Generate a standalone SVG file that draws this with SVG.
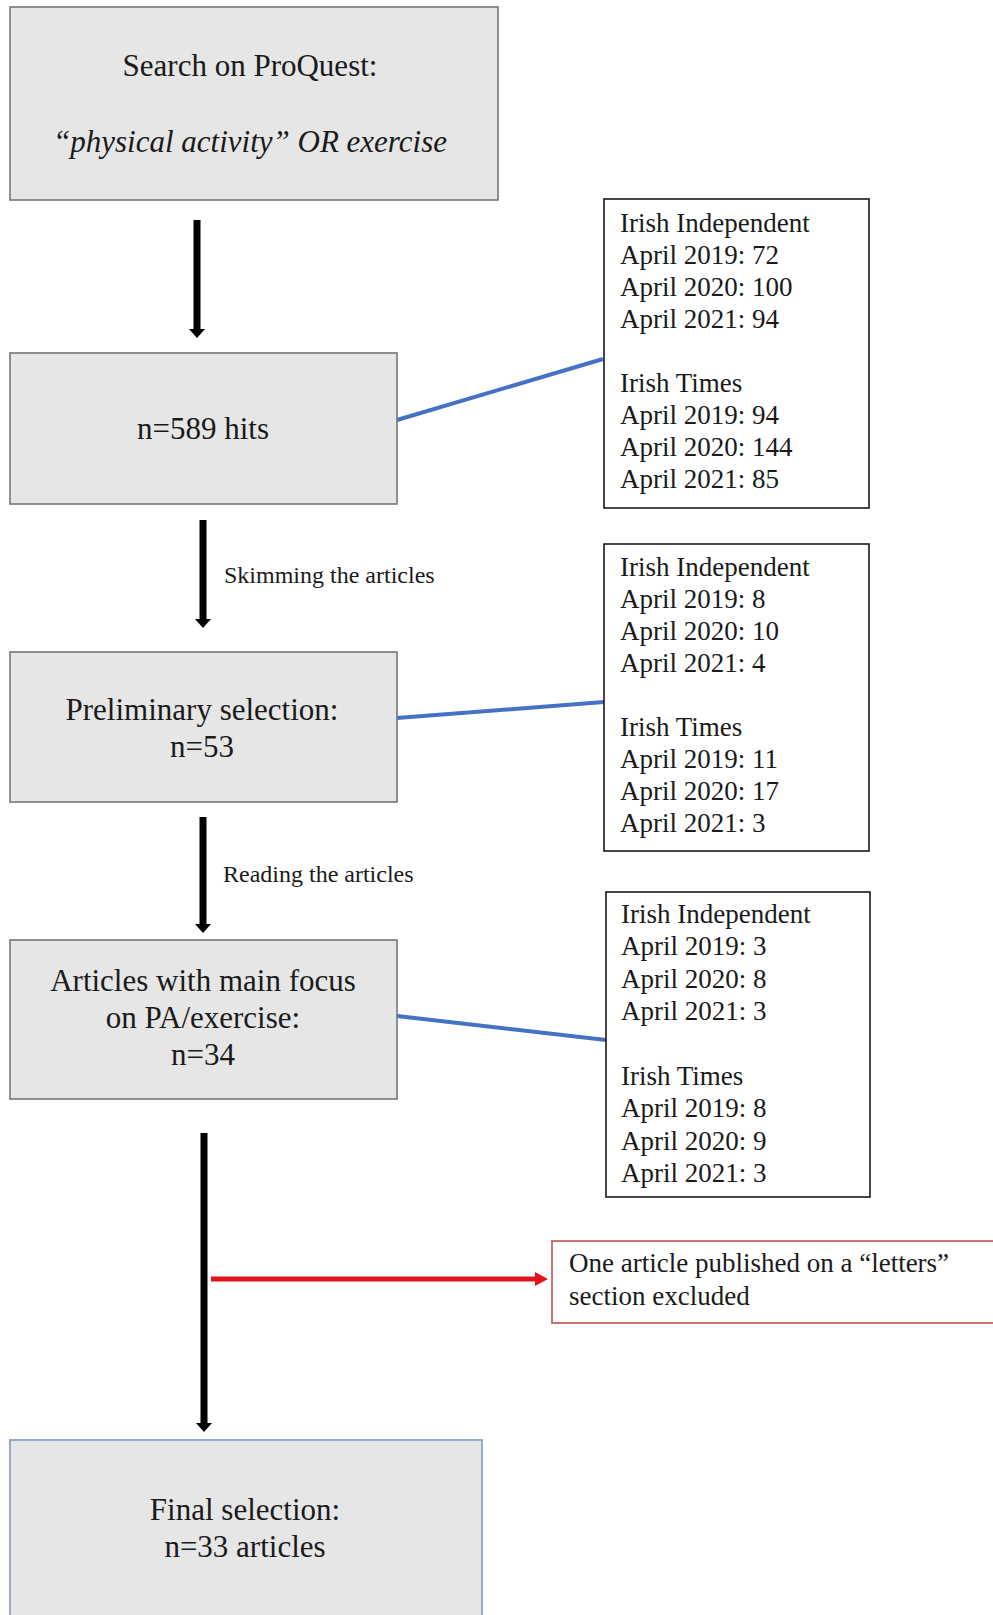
<svg xmlns="http://www.w3.org/2000/svg" width="993" height="1615" viewBox="0 0 993 1615">
  <style>
    text { font-family: "Liberation Serif", "Times New Roman", serif; fill: #1a1a1a; }
    .main { font-size: 31px; text-anchor: middle; }
    .side { font-size: 27px; }
    .lbl { font-size: 24px; }
    .gbox { fill: #e7e6e6; stroke: #767676; stroke-width: 1.6; }
    .wbox { fill: #ffffff; stroke: #1a1a1a; stroke-width: 1.6; }
    .arrow { stroke: #000; stroke-width: 7; fill: none; marker-end: url(#ah); }
    .blue { stroke: #4472c4; stroke-width: 4; fill: none; }
  </style>
  <defs>
    <marker id="ah" markerUnits="userSpaceOnUse" markerWidth="10" markerHeight="16" refX="1" refY="8" orient="auto">
      <path d="M0,0 L9,8 L0,16 z" fill="#000"/>
    </marker>
    <marker id="ahr" markerUnits="userSpaceOnUse" markerWidth="14" markerHeight="14" refX="1" refY="7" orient="auto">
      <path d="M0,0 L13,7 L0,14 z" fill="#e0141b"/>
    </marker>
  </defs>
  <rect width="993" height="1615" fill="#ffffff"/>

  <g id="connectors">
    <line class="arrow" x1="197" y1="220" x2="197" y2="330"/>
    <line class="arrow" x1="203" y1="520" x2="203" y2="620"/>
    <line class="arrow" x1="203" y1="817" x2="203" y2="925"/>
    <line class="arrow" x1="204" y1="1133" x2="204" y2="1424"/>
    <line x1="211" y1="1279" x2="536" y2="1279" stroke="#e0141b" stroke-width="5" marker-end="url(#ahr)"/>
    <line class="blue" x1="397" y1="420" x2="603" y2="359"/>
    <line class="blue" x1="397" y1="718" x2="604" y2="702"/>
    <line class="blue" x1="397" y1="1016" x2="606" y2="1040"/>
    <text class="lbl" x="224" y="583">Skimming the articles</text>
    <text class="lbl" x="223" y="882">Reading the articles</text>
  </g>

  <g id="search">
    <rect class="gbox" x="10" y="7" width="488" height="193"/>
    <text class="main" x="250" y="76">Search on ProQuest:</text>
    <text class="main" x="250" y="152" font-style="italic">“physical activity” OR exercise</text>
  </g>

  <g id="hits">
    <rect class="gbox" x="10" y="353" width="387" height="151"/>
    <text class="main" x="203" y="439">n=589 hits</text>
  </g>

  <g id="preliminary">
    <rect class="gbox" x="10" y="652" width="387" height="150"/>
    <text class="main" x="202" y="720">Preliminary selection:</text>
    <text class="main" x="202" y="757">n=53</text>
  </g>

  <g id="mainfocus">
    <rect class="gbox" x="10" y="940" width="387" height="159"/>
    <text class="main" x="203" y="991">Articles with main focus</text>
    <text class="main" x="203" y="1028">on PA/exercise:</text>
    <text class="main" x="203" y="1065">n=34</text>
  </g>

  <g id="final">
    <rect x="10" y="1440" width="472" height="200" fill="#e7e6e6" stroke="#8fa3c8" stroke-width="1.8"/>
    <text class="main" x="245" y="1520">Final selection:</text>
    <text class="main" x="245" y="1557">n=33 articles</text>
  </g>

  <g id="counts-hits">
    <rect class="wbox" x="604" y="199" width="265" height="309"/>
    <text class="side" x="620" y="232">Irish Independent</text>
    <text class="side" x="620" y="264">April 2019: 72</text>
    <text class="side" x="620" y="296">April 2020: 100</text>
    <text class="side" x="620" y="328">April 2021: 94</text>
    <text class="side" x="620" y="392">Irish Times</text>
    <text class="side" x="620" y="424">April 2019: 94</text>
    <text class="side" x="620" y="456">April 2020: 144</text>
    <text class="side" x="620" y="488">April 2021: 85</text>
  </g>

  <g id="counts-preliminary">
    <rect class="wbox" x="604" y="544" width="265" height="307"/>
    <text class="side" x="620" y="576">Irish Independent</text>
    <text class="side" x="620" y="608">April 2019: 8</text>
    <text class="side" x="620" y="640">April 2020: 10</text>
    <text class="side" x="620" y="672">April 2021: 4</text>
    <text class="side" x="620" y="736">Irish Times</text>
    <text class="side" x="620" y="768">April 2019: 11</text>
    <text class="side" x="620" y="800">April 2020: 17</text>
    <text class="side" x="620" y="832">April 2021: 3</text>
  </g>

  <g id="counts-mainfocus">
    <rect class="wbox" x="606" y="892" width="264" height="305"/>
    <text class="side" x="621" y="923">Irish Independent</text>
    <text class="side" x="621" y="955">April 2019: 3</text>
    <text class="side" x="621" y="988">April 2020: 8</text>
    <text class="side" x="621" y="1020">April 2021: 3</text>
    <text class="side" x="621" y="1085">Irish Times</text>
    <text class="side" x="621" y="1117">April 2019: 8</text>
    <text class="side" x="621" y="1150">April 2020: 9</text>
    <text class="side" x="621" y="1182">April 2021: 3</text>
  </g>

  <g id="excluded">
    <rect x="552" y="1241" width="460" height="82" fill="#ffffff" stroke="#c0504d" stroke-width="1.6"/>
    <text class="side" x="569" y="1272">One article published on a “letters”</text>
    <text class="side" x="569" y="1305">section excluded</text>
  </g>
</svg>
